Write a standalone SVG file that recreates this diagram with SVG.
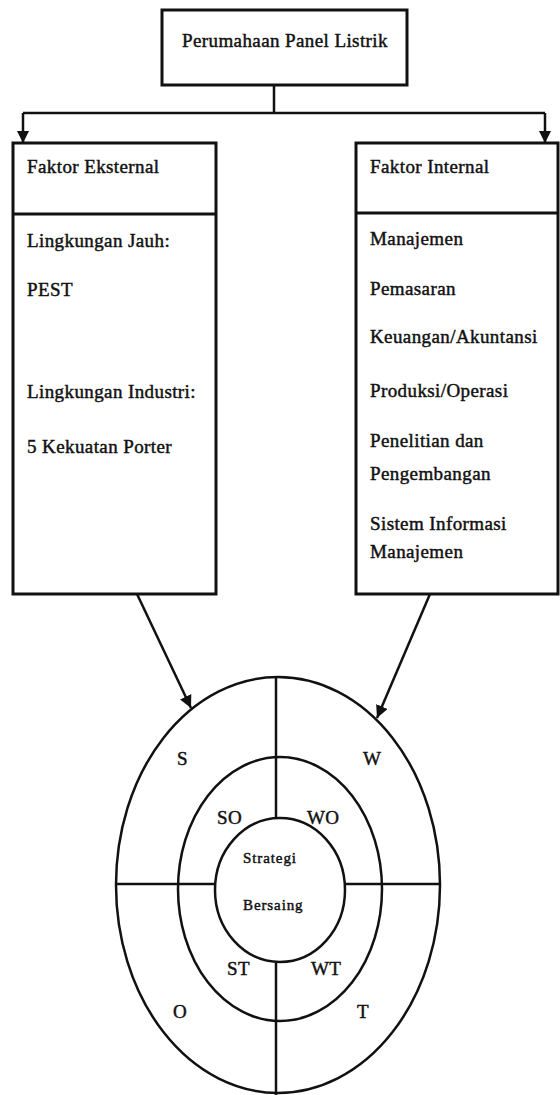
<svg xmlns="http://www.w3.org/2000/svg" width="560" height="1095" viewBox="0 0 560 1095">
<style>
.box{fill:#fff;stroke:#111;stroke-width:3}
.ln{fill:none;stroke:#111;stroke-width:2.5}
text{font-family:"Liberation Serif","DejaVu Serif",serif;fill:#111;stroke:#111;stroke-width:0.45}
.t{font-size:19px;letter-spacing:0.4px}
.s{font-size:15px;letter-spacing:0.9px}
</style>
<defs>
<marker id="ah" viewBox="0 0 10 10" refX="10" refY="5" markerWidth="5" markerHeight="5" orient="auto" markerUnits="strokeWidth">
<path d="M0,0 L10,5 L0,10 z" fill="#111"/>
</marker>
</defs>
<rect width="560" height="1095" fill="#fff"/>
<g id="connectors">
<path class="ln" d="M274,85 V113 M23,113 H545"/>
<path class="ln" d="M23,113 V143" marker-end="url(#ah)"/>
<path class="ln" d="M545,113 V143" marker-end="url(#ah)"/>
<path class="ln" d="M137,594 L191,708" marker-end="url(#ah)"/>
<path class="ln" d="M430,594 L377,718" marker-end="url(#ah)"/>
</g>
<g id="node-perusahaan">
<rect class="box" x="162" y="10" width="245" height="75"/>
<text class="t" x="182" y="47">Perumahaan Panel Listrik</text>
</g>
<g id="node-eksternal">
<rect class="box" x="13" y="143" width="203" height="451"/>
<line class="box" x1="13" y1="214" x2="216" y2="214"/>
<text class="t" x="27" y="173">Faktor Eksternal</text>
<text class="t" x="27" y="247">Lingkungan Jauh:</text>
<text class="t" x="27" y="296">PEST</text>
<text class="t" x="27" y="398">Lingkungan Industri:</text>
<text class="t" x="27" y="453">5 Kekuatan Porter</text>
</g>
<g id="node-internal">
<rect class="box" x="356" y="143" width="202" height="451"/>
<line class="box" x1="356" y1="213" x2="558" y2="213"/>
<text class="t" x="370" y="173">Faktor Internal</text>
<text class="t" x="370" y="245">Manajemen</text>
<text class="t" x="370" y="295">Pemasaran</text>
<text class="t" x="370" y="343">Keuangan/Akuntansi</text>
<text class="t" x="370" y="397">Produksi/Operasi</text>
<text class="t" x="370" y="447">Penelitian dan</text>
<text class="t" x="370" y="480">Pengembangan</text>
<text class="t" x="370" y="530">Sistem Informasi</text>
<text class="t" x="370" y="558">Manajemen</text>
</g>
<g id="node-swot">
<ellipse class="ln" cx="278" cy="885" rx="162" ry="208"/>
<ellipse class="ln" cx="280" cy="889" rx="102" ry="132"/>
<ellipse class="ln" cx="280" cy="890" rx="65" ry="72"/>
<path class="ln" d="M276,677 V818 M276,962 V1095 M116,884 H215 M345,884 H440"/>
<text class="t" x="177" y="765">S</text>
<text class="t" x="363" y="765">W</text>
<text class="t" x="217" y="824">SO</text>
<text class="t" x="307" y="824">WO</text>
<text class="s" x="243" y="863">Strategi</text>
<text class="s" x="243" y="910">Bersaing</text>
<text class="t" x="227" y="975">ST</text>
<text class="t" x="311" y="975">WT</text>
<text class="t" x="173" y="1018">O</text>
<text class="t" x="357" y="1018">T</text>
</g>
</svg>
